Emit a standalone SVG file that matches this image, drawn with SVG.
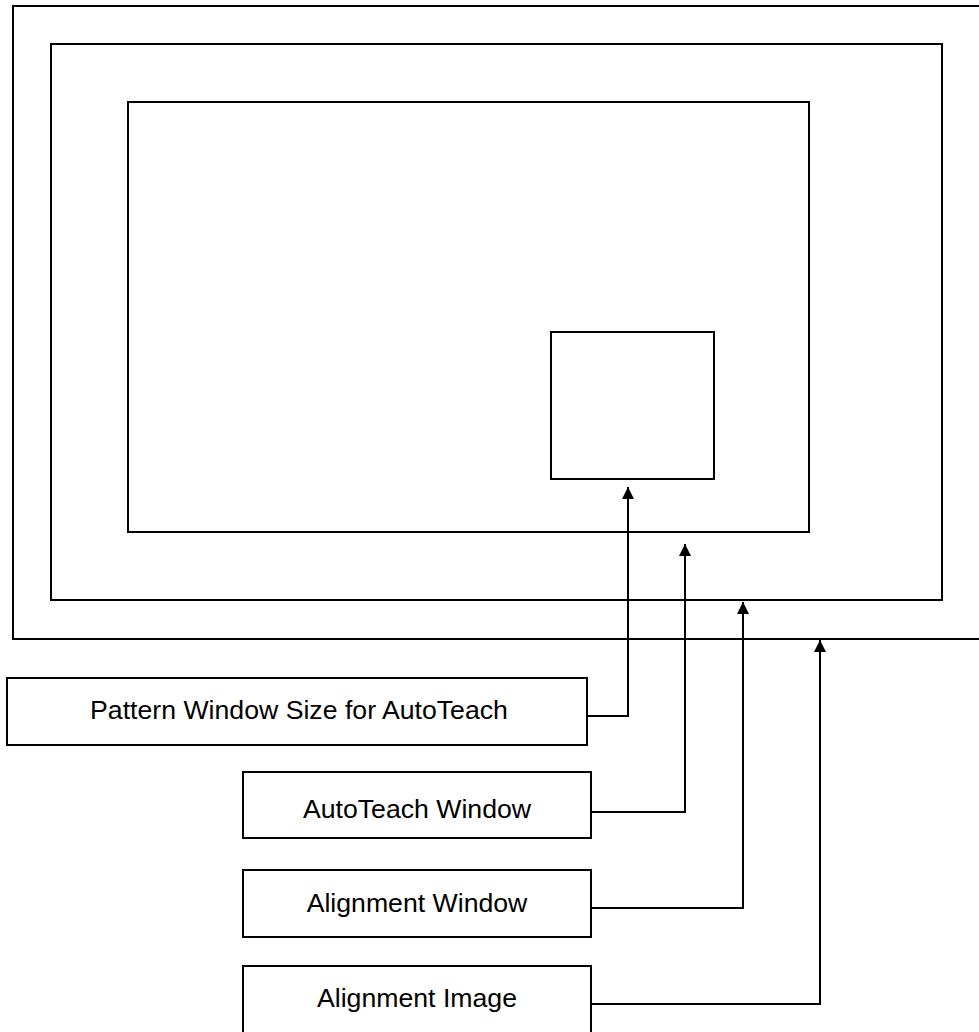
<svg xmlns="http://www.w3.org/2000/svg" width="979" height="1032" viewBox="0 0 979 1032">
  <style>
    .frame { fill: none; stroke: #000; stroke-width: 2; }
    .box { fill: #fff; stroke: #000; stroke-width: 2; }
    .label { font-family: "Liberation Sans", Arial, sans-serif; font-size: 26.67px; fill: #000; text-anchor: middle; }
    .wire { fill: none; stroke: #000; stroke-width: 2; }
  </style>
  <defs>
    <!-- filled triangle pointing along the path direction, tip at the path end -->
    <marker id="arrow" viewBox="0 0 12 12" refX="12" refY="6" markerWidth="12" markerHeight="12" markerUnits="userSpaceOnUse" orient="auto">
      <path d="M0,0 L12,6 L0,12 Z" fill="#000"/>
    </marker>
  </defs>

  <rect width="979" height="1032" fill="#fff"/>

  <!-- nested image windows -->
  <g id="alignment-image-frame">
    <rect class="frame" x="13" y="6" width="1000" height="633"/>
  </g>
  <g id="alignment-window-frame">
    <rect class="frame" x="51" y="44" width="891" height="556"/>
  </g>
  <g id="autoteach-window-frame">
    <rect class="frame" x="128" y="102" width="681" height="430"/>
  </g>
  <g id="pattern-window-frame">
    <rect class="frame" x="551" y="332" width="163" height="147"/>
  </g>

  <!-- leader lines from labels up to their windows -->
  <g id="connectors">
    <path class="wire" d="M588,716 H628 V487" marker-end="url(#arrow)"/>
    <path class="wire" d="M591,812 H685 V544" marker-end="url(#arrow)"/>
    <path class="wire" d="M591,908 H743 V602" marker-end="url(#arrow)"/>
    <path class="wire" d="M591,1004 H820 V640" marker-end="url(#arrow)"/>
  </g>

  <!-- labels -->
  <g id="label-pattern-window">
    <rect class="box" x="7" y="678" width="580" height="67"/>
    <text class="label" x="299" y="719">Pattern Window Size for AutoTeach</text>
  </g>
  <g id="label-autoteach-window">
    <rect class="box" x="243" y="772" width="348" height="66"/>
    <text class="label" x="417" y="818">AutoTeach Window</text>
  </g>
  <g id="label-alignment-window">
    <rect class="box" x="243" y="870" width="348" height="67"/>
    <text class="label" x="417" y="912">Alignment Window</text>
  </g>
  <g id="label-alignment-image">
    <rect class="box" x="243" y="966" width="348" height="80"/>
    <text class="label" x="417" y="1007">Alignment Image</text>
  </g>
</svg>
